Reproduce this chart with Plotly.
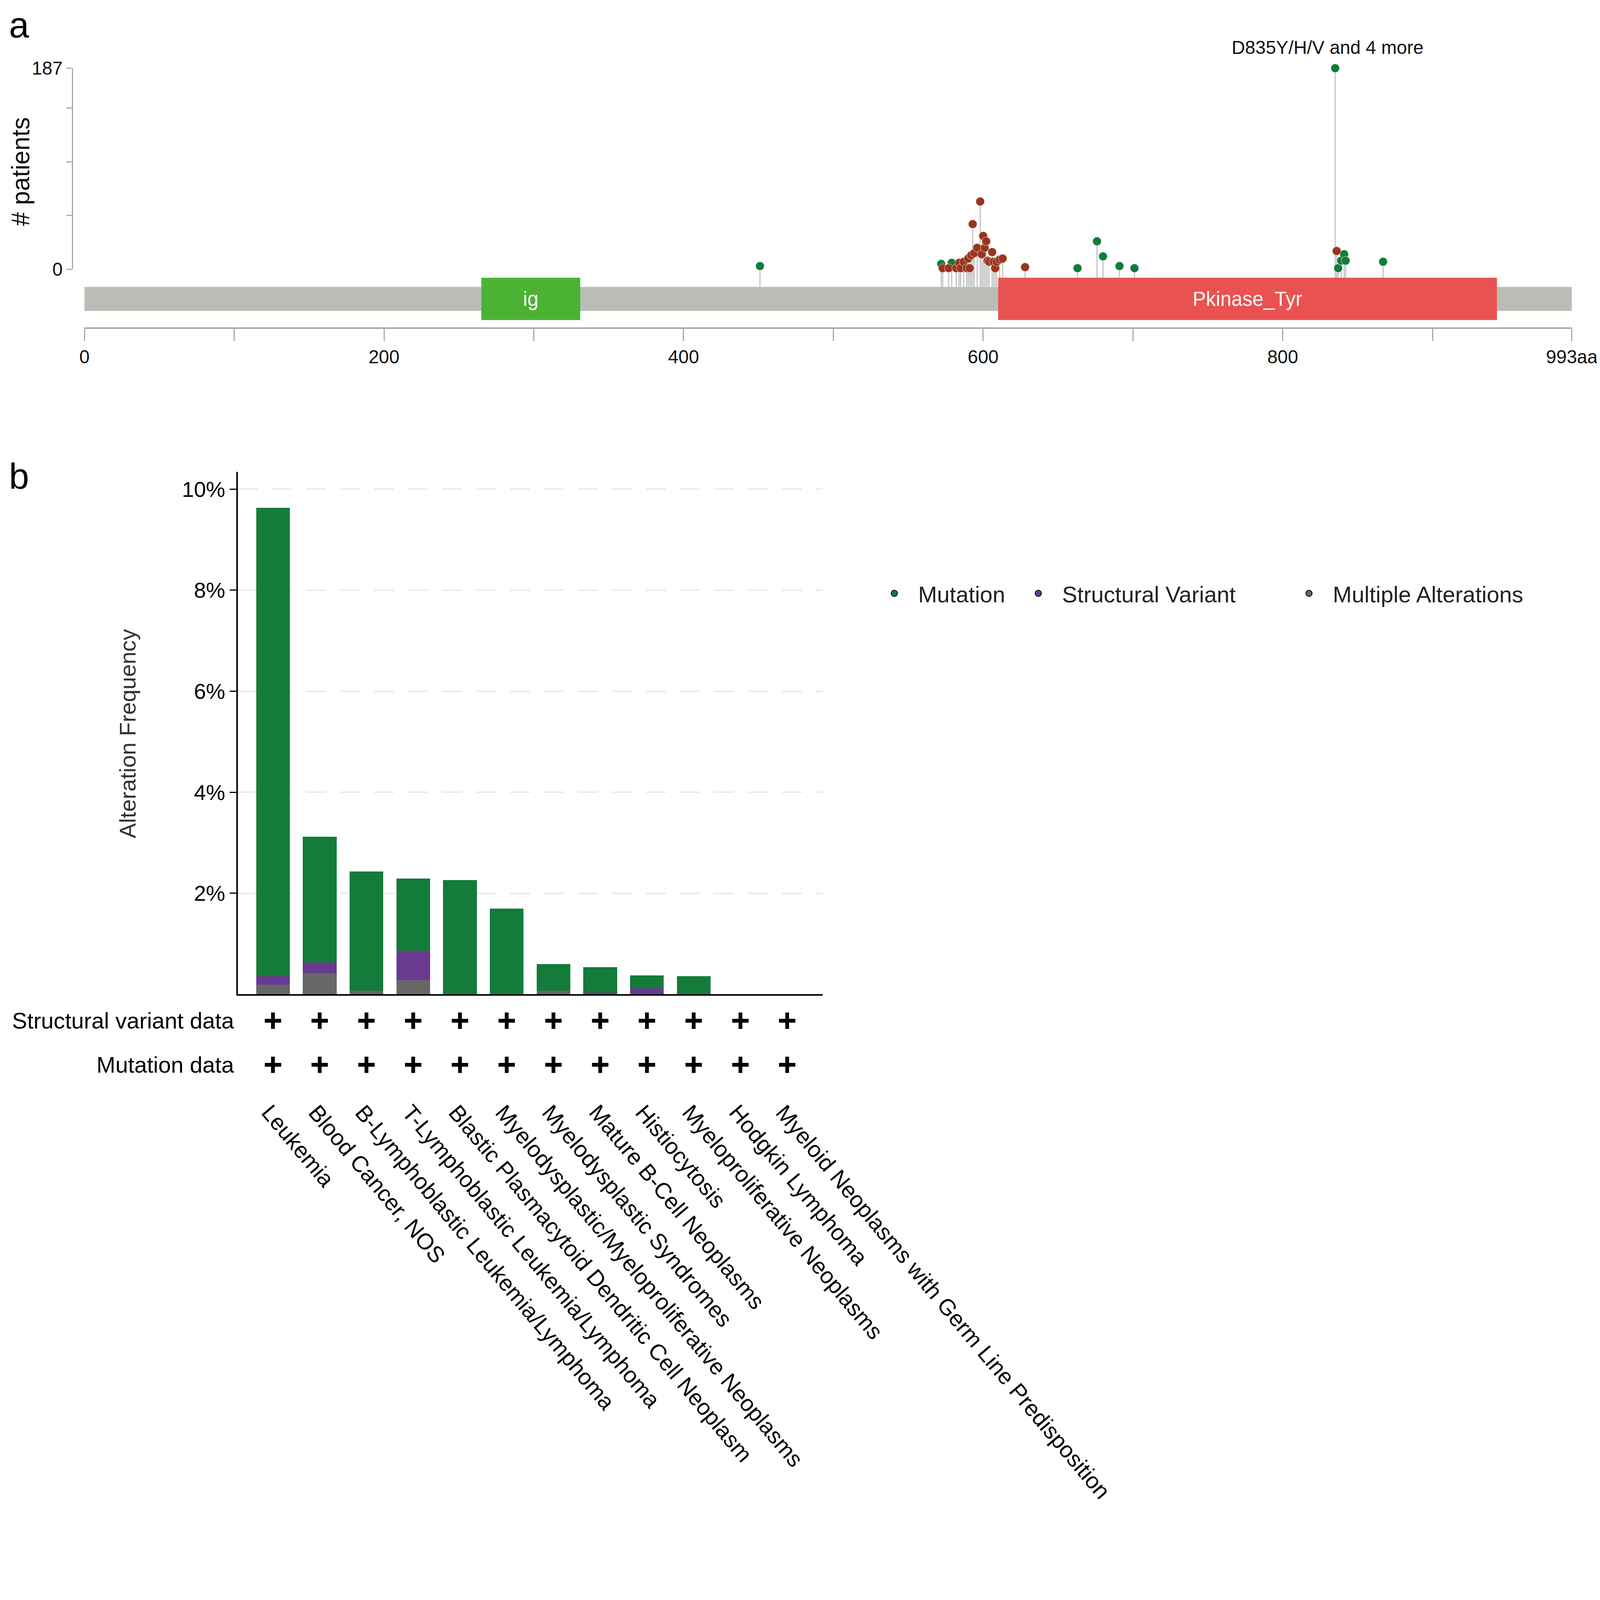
import plotly.graph_objects as go

# -------------------------------
# 1. Data: lollipop (FLT3 protein, 993 aa)
# -------------------------------
protein_len = 993

domain_names = ["ig", "Pkinase_Tyr"]
domain_start = [265, 610]
domain_end = [331, 943]
domain_colors = ["#4cb234", "#e95251"]

missense_pos = [451, 572, 579, 663, 676, 680, 691, 701, 835, 837, 839, 841, 842, 867]
missense_cnt = [3, 5, 6, 1, 26, 12, 3, 1, 187, 1, 8, 14, 8, 7]

inframe_pos = [573, 577, 582, 584, 585, 587, 589, 590, 591, 592, 593, 594, 596, 598,
               599, 600, 601, 602, 603, 604, 606, 607, 608, 609, 611, 613, 628, 836]
inframe_cnt = [1, 1, 1, 6, 1, 7, 1, 10, 1, 13, 42, 15, 20, 63,
               14, 31, 20, 26, 8, 7, 16, 7, 1, 7, 9, 10, 2, 17]

hotspot_pos = 835
hotspot_cnt = 187
hotspot_label = "D835Y/H/V and 4 more"

aa_ticks = [0, 100, 200, 300, 400, 500, 600, 700, 800, 900, 993]
aa_tick_text = ["0", "", "200", "", "400", "", "600", "", "800", "", "993aa"]
patient_ticks = [0, 50, 100, 150, 187]
patient_tick_text = ["0", "", "", "", "187"]

# -------------------------------
# 2. Data: alteration frequency by cancer type (%)
# -------------------------------
cancer_types = [
    "Leukemia", "Blood Cancer, NOS", "B-Lymphoblastic Leukemia/Lymphoma",
    "T-Lymphoblastic Leukemia/Lymphoma", "Blastic Plasmacytoid Dendritic Cell Neoplasm",
    "Myelodysplastic/Myeloproliferative Neoplasms", "Myelodysplastic Syndromes",
    "Mature B-Cell Neoplasms", "Histiocytosis", "Myeloproliferative Neoplasms",
    "Hodgkin Lymphoma", "Myeloid Neoplasms with Germ Line Predisposition",
]
freq_multiple = [0.19, 0.42, 0.07, 0.28, 0, 0, 0.07, 0, 0, 0, 0, 0]
freq_sv = [0.17, 0.21, 0, 0.58, 0, 0, 0, 0.03, 0.12, 0, 0, 0]
freq_mutation = [9.27, 2.49, 2.36, 1.43, 2.26, 1.70, 0.53, 0.51, 0.25, 0.36, 0, 0]

sv_profiled = ["+", "+", "+", "+", "+", "+", "+", "+", "+", "+", "+", "+"]
mut_profiled = ["+", "+", "+", "+", "+", "+", "+", "+", "+", "+", "+", "+"]

freq_ticks = [2, 4, 6, 8, 10]
freq_tick_text = ["2%", "4%", "6%", "8%", "10%"]

# -------------------------------
# 3. Layout helpers (reference pixel -> paper / css px)
# -------------------------------
REF_W, REF_H = 4724, 4420
SCALE = 0.88          # css px per picture px (page renders slightly enlarged)
W, H = round(REF_W * SCALE), round(REF_H * SCALE)
OFF = 8 / SCALE       # body margin
FONT = "Liberation Sans, Arial, sans-serif"


def pt(v):
    return v * SCALE


def fx(p):
    p = (p - 16) / 0.995
    return (p - OFF) / REF_W


def fy(p):
    p = p - 30
    return 1 - (p - OFF) / REF_H


GREEN_MUT = "#127c3a"
BROWN = "#973620"
C_MUT = "#137c3b"
C_SV = "#6a3990"
C_MULTI = "#676767"

# stems run from the marker down to the protein backbone (below y=0)
stem_floor = -187 * (846 - 794) / (794 - 201)

fig = go.Figure()

# stems
stem_x, stem_y = [], []
for p, c in zip(missense_pos + inframe_pos, missense_cnt + inframe_cnt):
    stem_x += [p, p, None]
    stem_y += [c, stem_floor, None]
fig.add_trace(go.Scatter(x=stem_x, y=stem_y, mode="lines", xaxis="x", yaxis="y",
                         line=dict(color="#bdbdbd", width=pt(3)), showlegend=False,
                         hoverinfo="skip"))

fig.add_trace(go.Scatter(x=missense_pos, y=missense_cnt, mode="markers", xaxis="x", yaxis="y",
                         marker=dict(color=GREEN_MUT, size=pt(25),
                                     line=dict(color="rgba(255,255,255,0.6)", width=1.2)),
                         cliponaxis=False, showlegend=False))
fig.add_trace(go.Scatter(x=inframe_pos, y=inframe_cnt, mode="markers", xaxis="x", yaxis="y",
                         marker=dict(color=BROWN, size=pt(25),
                                     line=dict(color="rgba(255,220,200,0.7)", width=1.2)),
                         cliponaxis=False, showlegend=False))

# helper traces so the track / patient axes exist
fig.add_trace(go.Scatter(x=[], y=[], xaxis="x", yaxis="y2", showlegend=False))
fig.add_trace(go.Scatter(x=[], y=[], xaxis="x", yaxis="y3", showlegend=False))

# protein backbone and domains
shapes = [dict(type="rect", xref="x", yref="y2", x0=0, x1=protein_len, y0=0.216, y1=0.784,
               fillcolor="#babdb6", line=dict(width=0), layer="above")]
annotations = []
for name, s, e, col in zip(domain_names, domain_start, domain_end, domain_colors):
    shapes.append(dict(type="rect", xref="x", yref="y2", x0=s, x1=e, y0=0, y1=1,
                       fillcolor=col, line=dict(width=0), layer="above"))
    annotations.append(dict(x=(s + e) / 2, y=0.5, xref="x", yref="y2", text=name,
                            showarrow=False, font=dict(family=FONT, size=pt(58), color="white")))

annotations.append(dict(x=hotspot_pos, y=hotspot_cnt, xref="x", yref="y", yshift=pt(60),
                        xshift=pt(-22), text=hotspot_label, showarrow=False,
                        font=dict(family=FONT, size=pt(54), color="#111")))

# -------------------------------
# 4. Stacked bars
# -------------------------------
xi = list(range(len(cancer_types)))
for name, vals, col in [("Multiple Alterations", freq_multiple, C_MULTI),
                        ("Structural Variant", freq_sv, C_SV),
                        ("Mutation", freq_mutation, C_MUT)]:
    fig.add_trace(go.Bar(x=xi, y=vals, name=name, xaxis="x2", yaxis="y4",
                         marker=dict(color=col, line=dict(width=0)), width=0.72,
                         showlegend=False))

# legend entries (circle symbols)
for name, col, lg in [("Mutation", C_MUT, "legend"),
                      ("Structural Variant", C_SV, "legend2"),
                      ("Multiple Alterations", C_MULTI, "legend3")]:
    fig.add_trace(go.Scatter(x=[None], y=[None], mode="markers", name=name,
                             xaxis="x2", yaxis="y4", legend=lg,
                             marker=dict(color=col, size=16, line=dict(color="black", width=2))))

# profiled-data rows
sv_x = [i for i, f in zip(xi, sv_profiled) if f == "+"]
mut_x = [i for i, f in zip(xi, mut_profiled) if f == "+"]
fig.add_trace(go.Scatter(x=sv_x + mut_x,
                         y=["Structural variant data"] * len(sv_x) + ["Mutation data"] * len(mut_x),
                         mode="markers", xaxis="x2", yaxis="y5", showlegend=False,
                         marker=dict(symbol="cross-thin", size=pt(34),
                                     line=dict(color="black", width=pt(11)))))

for i, name in zip(xi, cancer_types):
    annotations.append(dict(x=i, y=fy(3240), xref="x2", yref="paper", text=name,
                            textangle=50, xanchor="left", yanchor="top", xshift=pt(-50),
                            showarrow=False, font=dict(family=FONT, size=pt(66), color="black")))

# panel letters and axis titles
annotations += [
    dict(x=0, y=1, xref="paper", yref="paper", text="a", showarrow=False, yshift=24,
         xanchor="left", yanchor="top", font=dict(family=FONT, size=pt(105), color="black")),
    dict(x=0, y=fy(1404), xref="paper", yref="paper", text="b", showarrow=False,
         xanchor="left", yanchor="middle", font=dict(family=FONT, size=pt(105), color="black")),
    dict(x=fx(62), y=fy(506), xref="paper", yref="paper", text="# patients", textangle=-90,
         showarrow=False, xanchor="center", yanchor="middle",
         font=dict(family=FONT, size=pt(73), color="#111")),
    dict(x=fx(377), y=fy(2163), xref="paper", yref="paper", text="Alteration Frequency",
         textangle=-90, showarrow=False, xanchor="center", yanchor="middle",
         font=dict(family=FONT, size=pt(66), color="#333")),
]

legend_style = dict(orientation="h", yanchor="middle", y=fy(1750), xanchor="left",
                    itemwidth=112, font=dict(family=FONT, size=pt(66), color="#222"),
                    bgcolor="rgba(0,0,0,0)")

axis_font_a = dict(family=FONT, size=pt(54), color="#111")

fig.update_layout(
    width=W, height=H,
    margin=dict(l=0, r=0, t=0, b=0),
    paper_bgcolor="white", plot_bgcolor="rgba(0,0,0,0)",
    font=dict(family=FONT, color="#111"),
    barmode="stack",
    shapes=shapes,
    annotations=annotations,
    legend=dict(x=fx(2570), **legend_style),
    legend2=dict(x=fx(2995), **legend_style),
    legend3=dict(x=fx(3794), **legend_style),
    xaxis=dict(domain=[fx(250), fx(4640)], range=[0, protein_len], anchor="free",
               position=fy(968), showline=True, linecolor="#a9a9a9", linewidth=pt(4),
               ticks="outside", ticklen=pt(35), tickwidth=pt(3), tickcolor="#a9a9a9",
               tickmode="array", tickvals=aa_ticks, ticktext=aa_tick_text,
               tickfont=axis_font_a, showgrid=False, zeroline=False),
    yaxis=dict(domain=[fy(846), fy(201)], range=[stem_floor, 187], visible=False,
               anchor="x"),
    yaxis2=dict(domain=[fy(944), fy(819)], range=[0, 1], visible=False, anchor="x"),
    yaxis3=dict(domain=[fy(794), fy(201)], range=[0, 187], anchor="free", position=fx(214),
                showline=True, linecolor="#a9a9a9", linewidth=pt(3),
                ticks="outside", ticklen=pt(16), tickwidth=pt(3), tickcolor="#a9a9a9",
                tickmode="array", tickvals=patient_ticks, ticktext=patient_tick_text,
                tickfont=axis_font_a, showgrid=False, zeroline=False),
    xaxis2=dict(domain=[fx(703), fx(2429)], range=[-0.75, 11.76], anchor="y4",
                showline=True, linecolor="black", linewidth=pt(4), ticks="",
                showticklabels=False, showgrid=False, zeroline=False),
    yaxis4=dict(domain=[fy(2932), fy(1392)], range=[0, 10.34], anchor="x2",
                showline=True, linecolor="black", linewidth=pt(4),
                ticks="outside", ticklen=pt(20), tickwidth=pt(3), tickcolor="black",
                tickmode="array", tickvals=freq_ticks, ticktext=freq_tick_text,
                tickfont=dict(family=FONT, size=pt(63), color="black"),
                showgrid=True, gridcolor="#ebebeb", gridwidth=pt(4), griddash="52px,35px",
                zeroline=False),
    yaxis5=dict(domain=[fy(3205), fy(2945)], anchor="x2", type="category",
                categoryorder="array", categoryarray=["Mutation data", "Structural variant data"],
                range=[-0.5, 1.5], showline=False, ticks="", showgrid=False, zeroline=False,
                ticklabelstandoff=int(round(pt(10))),
                tickfont=dict(family=FONT, size=pt(66), color="black")),
)

fig.write_html("out.html")
